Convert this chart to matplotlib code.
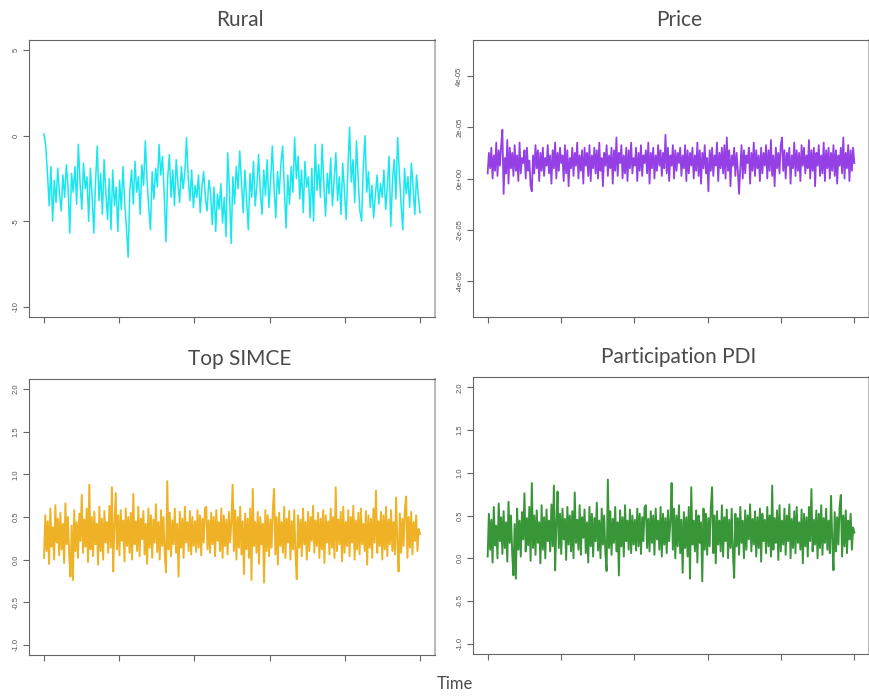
import numpy as np
import matplotlib.pyplot as plt

# trace values per parameter
rural = [0.1, -0.6, -2.2, -4.1, -1.8, -5.0, -2.6, -3.9, -1.9, -3.4, -4.4, -2.3, -3.6, -1.7, -3.0, -5.7, -2.2, -3.3, -1.8, -4.0,
         -0.5, -2.8, -4.3, -1.6, -3.1, -2.4, -5.0, -1.9, -3.5, -5.7, -2.7, -0.6, -3.8, -2.2, -4.6, -1.4, -3.3, -4.9, -2.5, -5.5,
         -2.0, -4.1, -3.0, -5.6, -2.6, -4.3, -1.8, -3.9, -5.4, -7.1, -3.2, -2.0, -4.0, -1.5, -3.3, -2.4, -4.6, -1.7, -2.9, -0.3,
         -2.6, -4.2, -5.5, -2.1, -3.7, -1.9, -3.0, -0.5, -2.3, -1.2, -3.4, -6.2, -2.5, -1.1, -3.6, -2.0, -4.1, -1.4, -2.8, -3.9,
         -1.8, -3.1, -2.2, -0.1, -2.5, -3.8, -2.0, -4.2, -2.9, -3.6, -2.3, -4.5, -3.0, -2.1, -3.7, -4.4, -2.6, -3.3, -5.2, -3.0,
         -5.6, -3.4, -4.3, -2.8, -5.1, -3.6, -5.9, -1.0, -3.2, -6.3, -2.4, -4.0, -1.8, -3.1, -0.9, -2.7, -4.5, -2.0, -3.8, -5.5,
         -2.2, -3.6, -1.5, -4.1, -2.9, -1.1, -3.3, -4.6, -2.0, -3.5, -1.4, -4.2, -2.6, -0.6, -3.0, -4.8, -2.1, -3.4, -1.6, -0.6,
         -3.1, -5.4, -2.3, -4.0, -1.8, -3.3, -0.1, -2.5, -1.2, -3.7, -2.0, -4.5, -1.5, -3.0, -2.4, -4.8, -1.9, -5.0, -0.5, -3.2,
         -1.7, -3.6, -0.5, -2.8, -4.7, -2.2, -3.4, -1.3, -4.1, -2.6, -1.0, -3.8, -2.4, -4.6, -1.6, -3.2, -4.9, -2.0, 0.5, -2.7,
         -1.4, -3.9, -0.3, -2.5, -4.4, -5.0, -1.8, 0.0, -3.3, -2.1, -4.2, -2.9, -4.8, -3.5, -2.3, -4.0, -2.8, -3.6, -2.0, -4.3,
         -3.0, -1.2, -5.3, -2.6, -1.4, -3.7, -0.1, -2.2, -4.0, -5.5, -1.9, -3.4, -2.4, -4.2, -1.6, -3.0, -4.6, -2.3, -3.5, -4.5]

# price, in units of 1e-06
price_e6 = [2, 10, 4, 12, 0, 9, 3, 14, 1, 11, 5, 13, 19, -6, 8, 2, 15, -2, 12, 4,
            10, 1, 13, 3, 9, -1, 14, 2, 8, 6, 11, 0, 12, 3, 7, -3, -5, 9, 2, 13,
            4, 11, -1, 10, 3, 12, 1, 8, 5, 13, 2, 9, -2, 11, 4, 14, 0, 10, 3, 12,
            6, 9, -1, 13, 2, 11, -3, 8, 4, 12, 1, 10, 5, 14, 0, 9, 3, 11, -2, 12,
            5, 10, 1, 13, -1, 9, 4, 12, 2, 11, 0, 14, 3, 8, -3, 10, 5, 13, 1, 9,
            4, 12, -2, 11, 3, 16, 1, 10, 6, 13, 0, 9, 2, 12, -1, 11, 4, 14, 2, 8,
            5, 12, -1, 10, 3, 13, 1, 9, 6, 11, 2, 14, -2, 10, 4, 12, 0, 9, 3, 13,
            5, 11, 1, 10, 4, 17, 2, 12, -1, 9, 5, 13, 0, 11, 3, 10, 6, 12, 1, 9,
            4, 13, -1, 11, 2, 10, 5, 12, 0, 9, 3, 14, 1, 11, -2, 10, 4, 13, 2, 8,
            -5, 11, 3, 12, 1, 9, 5, 14, -1, 10, 4, 12, 2, 13, 0, 16, 3, 11, -3, 9,
            5, 12, 1, 10, 3, -6, 4, 13, 0, 11, 2, 9, 6, 12, -2, 10, 3, 14, 1, 11,
            4, 9, -1, 12, 2, 10, 5, 13, 0, 11, 3, 15, 1, 9, -3, 12, 4, 10, 2, 13,
            16, 3, 11, 0, 10, 5, 12, -2, 9, 4, 14, 1, 11, 3, 10, -1, 13, 5, 12, 2,
            9, 4, 15, 0, 11, 3, 12, -3, 10, 5, 13, 1, 9, 2, 14, -1, 11, 4, 12, 0,
            10, 3, 13, 1, 11, -2, 9, 5, 12, 2, 16, 0, 10, 4, 13, -1, 11, 3, 12, 6]

# top SIMCE, in hundredths
simce_pct = [2, 52, 10, 45, -5, 60, 15, 38, 0, 64, 20, 48, 5, 55, 12, 42, -4, 66, 18, 50,
             6, -20, 40, -24, 58, 10, 44, 2, 54, 22, 76, 8, 47, 15, 60, -3, 88, 12, 50, 4,
             56, 18, 42, -6, 62, 10, 48, 0, 57, 20, 44, 8, 63, 14, 85, -14, 40, 78, 12, 52,
             5, 58, 22, 46, -2, 60, 16, 50, 8, 55, 0, 77, 18, 45, 10, 62, 4, 48, 24, 57,
             6, 42, -5, 60, 14, 52, 2, 47, 20, 65, 9, 44, 0, 58, 16, 50, 6, -15, 92, 12,
             55, 4, 46, 18, 60, 8, 42, -20, 56, 14, 48, 2, 62, 20, 44, 10, 57, 6, 50, 16,
             45, 9, 58, 14, 52, 5, 48, 20, 60, 62, 12, 46, 8, 55, 18, 50, 4, 58, 22, 44,
             10, 60, 2, 52, 16, 47, 6, 56, 20, 44, 88, 10, 58, 0, 50, 14, 62, 6, 45, -17,
             54, 12, 48, 2, 60, -24, 83, 16, 44, 8, 56, -5, 50, 18, 42, -27, 58, 10, 52, 4,
             47, 14, 60, 83, 6, 50, -6, 55, 16, 44, 8, 62, 2, 48, 20, 57, 0, 45, 12, 58,
             6, -23, 52, 14, 47, 4, 60, 18, 44, 0, 56, 10, 50, 22, 63, 8, 46, 16, 55, 2,
             48, 12, 58, -4, 52, 20, 45, 6, 60, 14, 50, 2, 85, 10, 47, 18, 56, -2, 62, 8,
             44, 16, 58, 4, 50, 20, 63, 0, 46, 12, 55, 6, 60, 18, 42, 10, 57, -6, 52, 14,
             48, 2, 60, 20, 81, 8, 45, 16, 56, 0, 52, 12, 62, 4, 47, 18, 58, 10, 44, 6,
             73, 20, -14, 54, 8, 48, 16, 60, 74, 2, 50, 14, 56, 6, 44, 22, 52, 10, 36, 30]

# participation PDI chain is the same draw as top SIMCE
pdi_pct = simce_pct

titles = ['Rural', 'Price', 'Top SIMCE', 'Participation PDI']
colors = ['#00E5EE', '#8A2BE2', '#EEAA0E', '#228B22']
series = [np.array(rural), np.array(price_e6) * 1e-6,
          np.array(simce_pct) / 100, np.array(pdi_pct) / 100]
yticks = [[-10, -5, 0, 5],
          [-4e-5, -2e-5, 0, 2e-5, 4e-5],
          [-1.0, -0.5, 0.0, 0.5, 1.0, 1.5, 2.0],
          [-1.0, -0.5, 0.0, 0.5, 1.0, 1.5, 2.0]]
ytick_labels = [['-10', '-5', '0', '5'],
                ['-4e-05', '-2e-05', '0e+00', '2e-05', '4e-05'],
                ['-1.0', '-0.5', '0.0', '0.5', '1.0', '1.5', '2.0'],
                ['-1.0', '-0.5', '0.0', '0.5', '1.0', '1.5', '2.0']]
ylims = [(-10.6, 5.6), (-5.4e-5, 5.4e-5), (-1.12, 2.12), (-1.12, 2.12)]
widths = [1.1, 1.3, 1.4, 1.4]

W, H = 869, 698
boxes = [(29, 40, 435, 317), (473, 40, 869, 317),
         (29, 379, 435, 655), (473, 377, 869, 654)]

plt.rcParams['font.family'] = ['Lato', 'DejaVu Sans']
fig = plt.figure(figsize=(W / 100, H / 100), dpi=100)

for (x0, y0, x1, y1), y, col, lw, title, yt, ytl, yl in zip(boxes, series, colors, widths, titles,
                                                          yticks, ytick_labels, ylims):
    ax = fig.add_axes([x0 / W, 1 - y1 / H, (x1 - x0) / W, (y1 - y0) / H])
    n = len(y)
    x = np.arange(n)
    ax.plot(x, y, color=col, lw=lw, alpha=0.9)
    ax.set_xlim(-0.04 * (n - 1), 1.04 * (n - 1))
    ax.set_ylim(*yl)
    ax.set_xticks(np.linspace(0, n - 1, 6))
    ax.set_xticklabels([])
    ax.set_yticks(yt)
    ax.set_yticklabels(ytl, rotation=90, va='center', fontsize=5.5, color='#555555',
                       family='Liberation Sans')
    ax.tick_params(length=4, width=0.8, color='#666666', pad=3)
    for side in ['left', 'bottom', 'top']:
        ax.spines[side].set_color('#666666')
        ax.spines[side].set_linewidth(0.8)
    ax.spines['right'].set_color('#bbbbbb')
    ax.spines['right'].set_linewidth(1.5)
    fig.text(((x0 + x1) / 2 + 8) / W, 1 - (y0 - 20) / H, title, ha='center', va='center',
             fontsize=15, color='#4a4a4a')

fig.text(455 / W, 1 - 684 / H, 'Time', ha='center', va='center', fontsize=12,
         color='#4a4a4a')

fig.savefig('out.png', dpi=100)
